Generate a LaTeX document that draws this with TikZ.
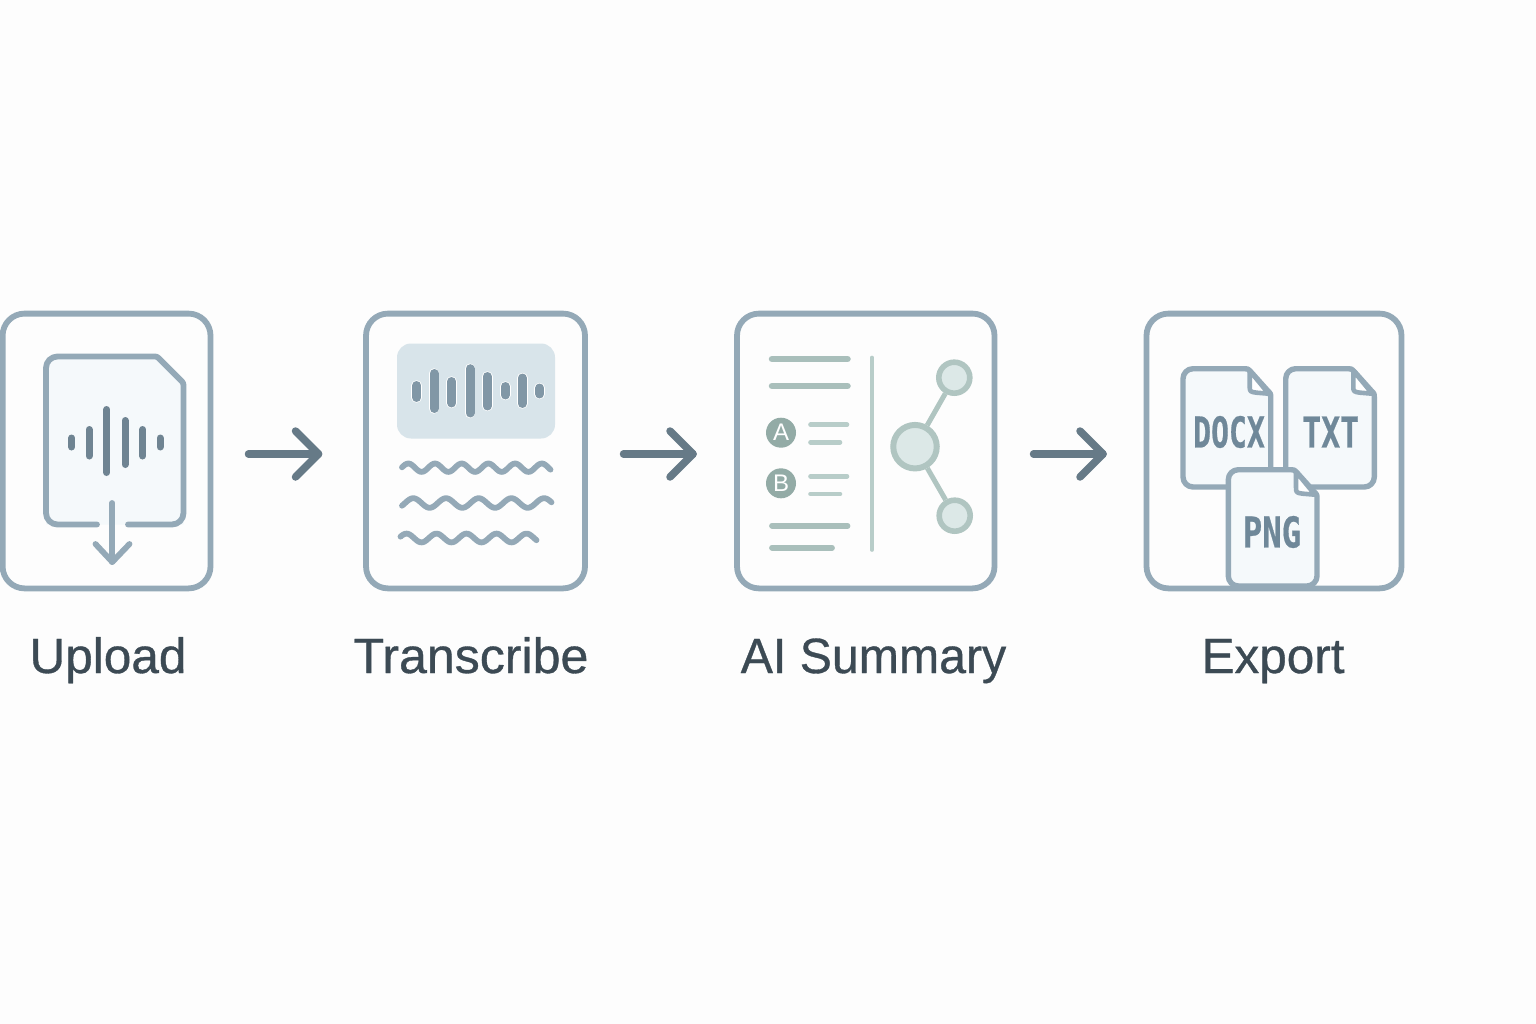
\documentclass[tikz,border=0pt]{standalone}
\usepackage{fontspec}
\setmainfont{Liberation Sans}
\font\labf="Liberation Sans:embolden=0.7" at 49.5pt
\font\monof="DejaVu Sans Mono/B:embolden=0.6" at 42.5pt
\usetikzlibrary{arrows.meta}
\definecolor{bgc}{HTML}{FDFDFD}
\definecolor{cardc}{HTML}{94A9B7}
\definecolor{arrowc}{HTML}{667A87}
\definecolor{darkbar}{HTML}{6F8492}
\definecolor{midbar}{HTML}{8197A6}
\definecolor{paper}{HTML}{F5F9FB}
\definecolor{panel}{HTML}{D8E4EA}
\definecolor{sagedk}{HTML}{93ABA6}
\definecolor{sage}{HTML}{A9BFBB}
\definecolor{sagering}{HTML}{B0C5C1}
\definecolor{sagelt}{HTML}{B8CDC9}
\definecolor{sagefill}{HTML}{DCE8E7}
\definecolor{labelc}{HTML}{3C4A54}
\definecolor{doctext}{HTML}{6F8899}
\tikzset{
  x=1pt,y=-1pt,
  card/.style={draw=cardc,line width=5.8pt,rounded corners=22pt,fill=bgc,inner sep=0pt},
  flow/.style={draw=arrowc,line width=7.5pt,line cap=round,line join=round},
  tick/.style={draw=#1,line cap=round},
  lab/.style={font=\labf,text=labelc,inner sep=0pt,anchor=base},
  docf/.style={draw=cardc,line width=5.4pt,fill=paper,line join=round},
  mono/.style={font=\monof,text=doctext,inner sep=0pt},
  gnode/.style={circle,draw=sagering,fill=sagefill,inner sep=0pt},
  badge/.style={circle,fill=sagedk,text=white,inner sep=0pt,minimum size=30pt,font=\fontsize{24}{24}\selectfont},
}
\newcommand{\vbar}[5]{\draw[tick=#5,line width=#4] (#1,#2) -- (#1,#3);}
\newcommand{\wave}[6]{\draw[draw=cardc,line width=5.8pt,line cap=round,line join=round,smooth] plot[domain=#1:#2,samples=90,variable=\t] ({\t},{#3-#4*cos(360/#6*(\t-#5))});}
\newcommand{\docicon}[4]{%
  \draw[docf] (#1+10,#3) -- (#2-26,#3) .. controls (#2-23,#3) .. (#2-20,#3+3) -- (#2-3,#3+22) .. controls (#2,#3+25) .. (#2,#3+29)
    -- (#2,#4-10) arc[start angle=0,end angle=90,radius=10] -- (#1+10,#4) arc[start angle=90,end angle=180,radius=10] -- (#1,#3+10) arc[start angle=180,end angle=270,radius=10] -- cycle;
  \filldraw[draw=cardc,fill=white,line width=4.6pt,line join=round] (#2-21,#3+2) -- (#2-21,#3+17) .. controls (#2-21,#3+23) .. (#2-14,#3+24) -- (#2-2,#3+25) -- cycle;
}
\begin{document}
\begin{tikzpicture}
\fill[bgc] (0,0) rectangle (1536,1024);
\useasboundingbox (0,0) rectangle (1536,1024);
% cards
\path[card] (2.6,313.6) rectangle (210.5,588.4);
\path[card] (366,313.6) rectangle (585,588.4);
\path[card] (737,313.6) rectangle (994.5,588.4);
\path[card] (1146.5,313.6) rectangle (1401.5,588.4);
% upload file
\fill[paper] (46,368) -- (46,524.5) -- (183.5,524.5) -- (183.5,382) -- (157,356.5) -- (58,356.5) -- cycle;
\draw[cardc,line width=5.8pt,line cap=round,line join=round]
  (97,524.5) -- (57.5,524.5) arc[start angle=90,end angle=180,radius=11.5] -- (46,368) arc[start angle=180,end angle=270,radius=11.5] -- (153,356.5) .. controls (157,356.5) .. (160,359.5) -- (180.5,380) .. controls (183.5,383) .. (183.5,388)
  -- (183.5,513) arc[start angle=0,end angle=90,radius=11.5] -- (128,524.5);
\draw[cardc,line width=5.8pt,line cap=round,line join=round] (112.3,503) -- (112.3,562);
\draw[cardc,line width=5.8pt,line cap=round,line join=round] (95.5,544) -- (112.3,562) -- (129.5,544);
\vbar{71.7}{438}{447}{7pt}{darkbar}
\vbar{89}{429.5}{456}{7pt}{darkbar}
\vbar{106.7}{409.5}{472.5}{7pt}{darkbar}
\vbar{125}{420.5}{464.5}{7pt}{darkbar}
\vbar{142.7}{429.5}{456}{7pt}{darkbar}
\vbar{160}{438}{447}{7pt}{darkbar}
% transcribe
\fill[panel,rounded corners=14pt] (397,343.5) rectangle (555,438.5);
\foreach \xa/\ya/\yb in {416.7/385.5/397.5,434/373.5/408.5,451.7/381.5/403,470/368.7/413,487.3/376.5/406,505.3/386.5/395,522.3/378/403.5,539.7/388/394}{
  \draw[white,line width=10.5pt,line cap=round] (\xa,\ya) -- (\xa,\yb);
  \draw[midbar,line width=9pt,line cap=round] (\xa,\ya) -- (\xa,\yb);
}
\wave{402}{550.5}{467.7}{4.2}{408.3}{26.7}
\wave{402}{551.5}{503}{4.8}{413.3}{32.7}
\wave{400.5}{536.5}{538}{4.4}{406.5}{30}
% summary
\draw[sage,line width=6.5pt,line cap=round] (772,359) -- (847.5,359);
\draw[sage,line width=6.5pt,line cap=round] (772,386) -- (847.5,386);
\node[badge] (ba) at (781,432.7) {A};
\node[badge] (bb) at (781,483.3) {B};
\foreach \yy/\xe in {424.7/847,442.3/840,476.3/847,494/840}{\draw[sagelt,line width=4.6pt,line cap=round] (810.5,\yy) -- (\xe,\yy);}
\draw[sage,line width=5.8pt,line cap=round] (772,525.7) -- (847.5,525.7);
\draw[sage,line width=5.8pt,line cap=round] (772,547.7) -- (832,547.7);
\draw[sagelt,line width=3.6pt,line cap=round] (872,357.5) -- (872,550);
\node[gnode,line width=6pt,minimum size=43.5pt] (g0) at (915,446.7) {};
\node[gnode,line width=5.6pt,minimum size=31pt] (g1) at (954.3,377.7) {};
\node[gnode,line width=5.6pt,minimum size=31pt] (g2) at (954.7,515.7) {};
\draw[sagering,line width=5pt] (g0) -- (g1);
\draw[sagering,line width=5pt] (g0) -- (g2);
% export docs
\docicon{1183}{1270.7}{368.7}{487}
\docicon{1285.7}{1374.3}{368.7}{487}
\docicon{1228.3}{1317}{469.7}{586}
\node[mono,xscale=.70] (tdocx) at (1229,432) {DOCX};
\node[mono,xscale=.74] (ttxt) at (1330.7,432) {TXT};
\node[mono,xscale=.76] (tpng) at (1272,532) {PNG};
% flow arrows
\coordinate (a1s) at (248.5,454); \coordinate (a1e) at (318.5,454);
\coordinate (a2s) at (623.5,454); \coordinate (a2e) at (693,454);
\coordinate (a3s) at (1033.5,454); \coordinate (a3e) at (1103,454);
\foreach \s/\e in {a1s/a1e,a2s/a2e,a3s/a3e}{
  \draw[flow] (\s) -- (\e);
  \draw[flow] ([xshift=-23pt,yshift=23pt]\e) -- (\e) -- ([xshift=-23pt,yshift=-23pt]\e);
}
% labels
\node[lab] (l1) at (108,673) {Upload};
\node[lab,xscale=1.012] (l2) at (471,673) {Transcribe};
\node[lab,xscale=.975] (l3) at (873.5,673) {AI Summary};
\node[lab] (l4) at (1273,673) {Export};
\end{tikzpicture}
\end{document}
